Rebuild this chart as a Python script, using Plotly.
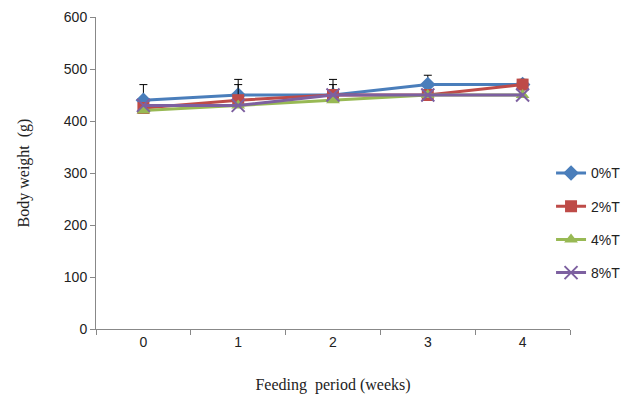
import plotly.graph_objects as go

weeks = ["0", "1", "2", "3", "4"]
t0 = [440, 450, 450, 470, 470]
t2 = [425, 440, 450, 450, 470]
t4 = [420, 430, 440, 450, 450]
t8 = [430, 430, 450, 450, 450]
err_t0 = [30, 30, 30, 18, 0]
err_t2 = [0, 30, 20, 0, 10]
names = ["0%T", "2%T", "4%T", "8%T"]
colors = ["#4A7EBB", "#BE4B48", "#98B954", "#7D60A0"]
symbols = ["diamond", "square", "triangle-up", "x-thin"]
series = [t0, t2, t4, t8]
errs = [err_t0, err_t2, None, None]

fig = go.Figure()
for i, (nm, ys) in enumerate(zip(names, series)):
    eb = None
    if errs[i] is not None:
        eb = dict(type="data", array=errs[i], symmetric=False, arrayminus=[0]*5,
                  color="black", thickness=1, width=4)
    marker = dict(symbol=symbols[i], size=12, color=colors[i])
    if symbols[i] == "x-thin":
        marker = dict(symbol="x-thin", size=13, color=colors[i], line=dict(width=2, color=colors[i]))
    fig.add_trace(go.Scatter(x=weeks, y=ys, name=nm, mode="lines+markers",
                             line=dict(color=colors[i], width=3), marker=marker,
                             error_y=eb, legendgroup=nm))

fig.update_layout(
    width=624, height=397,
    margin=dict(l=96, r=54, t=17, b=68, autoexpand=False),
    plot_bgcolor="white", paper_bgcolor="white",
    showlegend=True,
    legend=dict(x=0.96, xanchor="left", y=0.55, yanchor="top",
                font=dict(family="Liberation Sans", size=14, color="#222"),
                itemwidth=30,
                traceorder="grouped", tracegroupgap=12, bgcolor="rgba(0,0,0,0)"),
    xaxis=dict(type="category", range=[-0.5, 4.5], showline=True, linecolor="#888",
               ticks="outside", tickson="boundaries", ticklen=5, tickcolor="#888",
               showgrid=False, zeroline=False,
               tickfont=dict(family="Liberation Sans", size=14, color="#222"),
               title=dict(text="Feeding  period (weeks)", standoff=30,
                          font=dict(family="Liberation Serif", size=16, color="#222"))),
    yaxis=dict(range=[0, 600], dtick=100, showline=True, linecolor="#888",
               ticks="outside", ticklen=5, tickcolor="#888",
               showgrid=False, zeroline=False,
               tickfont=dict(family="Liberation Sans", size=14, color="#222"),
               title=dict(text="Body weight  (g)", standoff=30,
                          font=dict(family="Liberation Serif", size=16, color="#222"))),
)
fig.write_html("out.html")
